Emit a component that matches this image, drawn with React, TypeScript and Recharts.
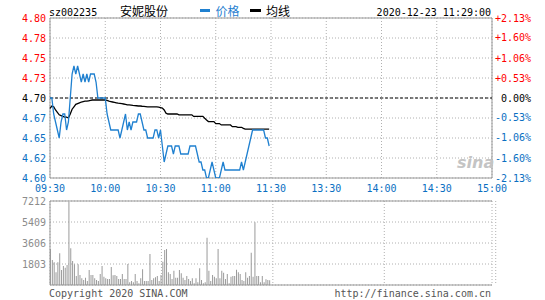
import React from 'react';
import { LineChart, Line, XAxis, YAxis, CartesianGrid, ReferenceLine, BarChart, Bar } from 'recharts';

const MONO = '"DejaVu Sans Mono", monospace';
const CJK = '"Noto Sans CJK SC", sans-serif';
const RED = '#ff0000';
const BLUE = '#0a6fc2';
const LINE_BLUE = '#1f80d0';
const GRID = '#b0b0b0';
const BORDER = '#999999';

const timeTicks = [0, 30, 60, 90, 120, 150, 180, 210, 240];
const timeLabels = ['09:30', '10:00', '10:30', '11:00', '11:30', '13:30', '14:00', '14:30', '15:00'];
const priceTicks = [4.6, 4.625, 4.65, 4.675, 4.7, 4.725, 4.75, 4.775, 4.8];
const priceLabels = ['4.60', '4.62', '4.65', '4.67', '4.70', '4.73', '4.75', '4.78', '4.80'];
const pctTicks = [-2.13, -1.6, -1.06, -0.53, 0, 0.53, 1.06, 1.6, 2.13];
const pctLabels = ['-2.13%', '-1.60%', '-1.06%', '-0.53%', '0.00%', '+0.53%', '+1.06%', '+1.60%', '+2.13%'];
const volTicks = [0, 1803, 3606, 5409, 7212];
const volLabels = ['', '1803', '3606', '5409', '7212'];

const prevClose = 4.7;

const price = [
  4.70, 4.70, 4.68, 4.67, 4.66, 4.65, 4.67, 4.68, 4.68, 4.66,
  4.67, 4.70, 4.73, 4.74, 4.73, 4.74, 4.73, 4.72, 4.73, 4.72,
  4.73, 4.72, 4.73, 4.73, 4.73, 4.72, 4.70, 4.70, 4.70, 4.70,
  4.70, 4.68, 4.67, 4.66, 4.66, 4.66, 4.66, 4.66, 4.65, 4.66,
  4.67, 4.68, 4.66, 4.67, 4.66, 4.67, 4.67, 4.67, 4.68, 4.68,
  4.67, 4.66, 4.66, 4.65, 4.65, 4.65, 4.65, 4.66, 4.66, 4.65,
  4.66, 4.64, 4.62, 4.63, 4.64, 4.64, 4.64, 4.63, 4.64, 4.64,
  4.64, 4.63, 4.63, 4.63, 4.63, 4.63, 4.64, 4.64, 4.64, 4.64,
  4.63, 4.62, 4.62, 4.61, 4.61, 4.60, 4.60, 4.61, 4.62, 4.61,
  4.60, 4.60, 4.60, 4.61, 4.62, 4.61, 4.61, 4.61, 4.61, 4.61,
  4.61, 4.61, 4.61, 4.61, 4.62, 4.61, 4.62, 4.63, 4.64, 4.65,
  4.66, 4.66, 4.66, 4.66, 4.66, 4.66, 4.66, 4.65, 4.65, 4.64,
];

const avg = [
  4.687, 4.690, 4.689, 4.685, 4.682, 4.679, 4.678, 4.677, 4.676, 4.676,
  4.675, 4.680, 4.686, 4.689, 4.692, 4.693, 4.694, 4.695, 4.6955, 4.696,
  4.696, 4.6965, 4.697, 4.6975, 4.6975, 4.6975, 4.6975, 4.6975, 4.6975, 4.6975,
  4.6975, 4.697, 4.696, 4.6955, 4.695, 4.6945, 4.694, 4.6935, 4.6933, 4.693,
  4.6925, 4.692, 4.6915, 4.6913, 4.691, 4.6907, 4.6905, 4.6903, 4.690, 4.690,
  4.6897, 4.6895, 4.6893, 4.689, 4.689, 4.689, 4.689, 4.689, 4.6888, 4.6885,
  4.688, 4.6875, 4.685, 4.681, 4.680, 4.680, 4.680, 4.680, 4.680, 4.680,
  4.679, 4.679, 4.679, 4.679, 4.679, 4.679, 4.679, 4.679, 4.677, 4.677,
  4.677, 4.677, 4.677, 4.677, 4.6746, 4.6725, 4.6705, 4.6705, 4.6705, 4.6705,
  4.668, 4.668, 4.668, 4.6663, 4.6663, 4.6663, 4.6663, 4.6663, 4.6663, 4.6642,
  4.6642, 4.6642, 4.6634, 4.6634, 4.6634, 4.662, 4.661, 4.661, 4.661, 4.661,
  4.661, 4.661, 4.661, 4.661, 4.661, 4.661, 4.661, 4.661, 4.661, 4.661,
];

const volume = [
  3090, 2146, 1946, 1087, 1946, 2718, 1288, 1631, 1488, 1717,
  7150, 3148, 2060, 1774, 773, 1774, 859, 573, 429, 630,
  343, 1288, 859, 859, 573, 429, 343, 944, 1631, 716,
  573, 515, 515, 1545, 830, 859, 773, 515, 515, 944,
  515, 515, 1803, 229, 343, 229, 944, 343, 143, 573,
  1345, 343, 343, 343, 2660, 429, 573, 658, 773, 343,
  859, 2003, 3005, 3090, 1087, 944, 515, 1230, 630, 630,
  1288, 1001, 630, 429, 773, 515, 343, 573, 143, 573,
  229, 1431, 429, 143, 229, 4063, 1230, 343, 859, 716,
  573, 3090, 573, 1230, 1059, 515, 944, 143, 716, 773,
  773, 1316, 1087, 944, 429, 343, 1087, 630, 773, 2776,
  716, 5380, 773, 773, 229, 773, 229, 487, 429, 400,
];

const priceRows = price.map((p, i) => ({ t: i, price: p, avg: avg[i] }));
const volRows = volume.map((v, i) => ({ t: i, v }));

const findIdx = (arr: number[], v: number) => arr.findIndex((a) => Math.abs(a - v) < 1e-6);

const PriceTick = (props: any) => {
  const i = findIdx(priceTicks, props.payload.value);
  const v = priceTicks[i];
  const fill = v > prevClose + 1e-6 ? RED : v < prevClose - 1e-6 ? BLUE : '#000';
  return (
    <text x={46} y={props.y + 3.5} textAnchor="end" fill={fill} fontSize={10} fontFamily={MONO}>
      {priceLabels[i]}
    </text>
  );
};

const PctTick = (props: any) => {
  const i = findIdx(pctTicks, props.payload.value);
  const v = pctTicks[i];
  const fill = v > 0 ? RED : v < 0 ? BLUE : '#000';
  return (
    <text x={531} y={props.y + 3.5} textAnchor="end" fill={fill} fontSize={10} fontFamily={MONO}>
      {pctLabels[i]}
    </text>
  );
};

const TimeTick = (props: any) => {
  const i = findIdx(timeTicks, props.payload.value);
  return (
    <text x={props.x} y={191.5} textAnchor="middle" fill={BLUE} fontSize={10} fontFamily={MONO}>
      {timeLabels[i]}
    </text>
  );
};

const VolTick = (props: any) => {
  const i = findIdx(volTicks, props.payload.value);
  return (
    <text x={46} y={props.y + 3.5} textAnchor="end" fill="#8c8c8c" fontSize={10} fontFamily={MONO}>
      {volLabels[i]}
    </text>
  );
};

export default function App() {
  return (
    <div style={{ position: 'absolute', left: 0, top: 0, width: 545, height: 300, background: '#fff', overflow: 'hidden' }}>
      <div style={{ position: 'absolute', left: 0, top: 0 }}>
        <LineChart width={545} height={195} data={priceRows} margin={{ top: 18, right: 0, bottom: 0, left: 0 }}>
          <CartesianGrid stroke={GRID} strokeDasharray="1 2" />
          <XAxis dataKey="t" type="number" domain={[0, 240]} ticks={timeTicks} interval={0} height={17}
            axisLine={false} tickLine={false} tick={TimeTick} />
          <YAxis domain={[4.6, 4.8]} ticks={priceTicks} interval={0} width={50} axisLine={false} tickLine={false}
            tick={PriceTick} allowDataOverflow />
          <YAxis yAxisId="pct" orientation="right" domain={[-2.13, 2.13]} ticks={pctTicks} interval={0} width={53}
            axisLine={false} tickLine={false} tick={PctTick} allowDataOverflow />
          <ReferenceLine y={4.8} stroke={BORDER} strokeWidth={1} />
          <ReferenceLine y={4.6} stroke={BORDER} strokeWidth={1} />
          <ReferenceLine x={0} stroke={BORDER} strokeWidth={1} />
          <ReferenceLine x={240} stroke={BORDER} strokeWidth={1} />
          <ReferenceLine y={prevClose} stroke="#000" strokeDasharray="3 2" strokeWidth={1} />
          <Line dataKey="avg" type="linear" stroke="#000" strokeWidth={1.3} dot={false} isAnimationActive={false} />
          <Line dataKey="price" type="linear" stroke={LINE_BLUE} strokeWidth={1.3} dot={false} isAnimationActive={false} />
        </LineChart>
      </div>
      <div style={{ position: 'absolute', left: 0, top: 195 }}>
        <BarChart width={545} height={105} data={volRows} margin={{ top: 6, right: 53, bottom: 15, left: 0 }}
          barCategoryGap={0} barGap={0}>
          <XAxis xAxisId="grid" type="number" domain={[0, 240]} ticks={timeTicks} interval={0} hide />
          <XAxis xAxisId="bars" dataKey="t" type="number" domain={[-0.5, 239.5]} hide />
          <YAxis domain={[0, 7212]} ticks={volTicks} interval={0} width={50} axisLine={false} tickLine={false}
            tick={VolTick} allowDataOverflow />
          <CartesianGrid xAxisId="grid" stroke={GRID} strokeDasharray="1 2" />
          <Bar xAxisId="bars" dataKey="v" fill="#9a9a9a" barSize={1} isAnimationActive={false} />
          <ReferenceLine xAxisId="grid" y={7212} stroke={BORDER} />
          <ReferenceLine xAxisId="grid" y={0} stroke={BORDER} />
          <ReferenceLine xAxisId="grid" x={0} stroke={BORDER} />
          <ReferenceLine xAxisId="grid" x={240} stroke={BORDER} />
        </BarChart>
      </div>
      <svg width={545} height={300} style={{ position: 'absolute', left: 0, top: 0, pointerEvents: 'none' }}>
        <text x={49} y={15.5} fontSize={10} fontFamily={MONO} fill="#000">sz002235</text>
        <text x={120} y={16} fontSize={12} fontFamily={CJK} fill="#000">安妮股份</text>
        <rect x={200} y={9} width={10} height={3} fill={LINE_BLUE} />
        <text x={215.5} y={16} fontSize={12} fontFamily={CJK} fill={LINE_BLUE}>价格</text>
        <rect x={250} y={9} width={11} height={3} fill="#000" />
        <text x={266} y={16} fontSize={12} fontFamily={CJK} fill="#000">均线</text>
        <text x={491} y={15.5} textAnchor="end" fontSize={10} fontFamily={MONO} fill="#000">2020-12-23 11:29:00</text>
        <text x={457} y={168} fontSize={16} fontStyle="italic" fontWeight="bold" fontFamily='"DejaVu Sans", sans-serif' fill="#c4c4c4">sina</text>
        <text x={49} y={296.5} fontSize={10} fontFamily={MONO} fill="#555">Copyright 2020 SINA.COM</text>
        <text x={491} y={296.5} textAnchor="end" fontSize={10} fontFamily={MONO} fill="#555">http://finance.sina.com.cn</text>
      </svg>
    </div>
  );
}
